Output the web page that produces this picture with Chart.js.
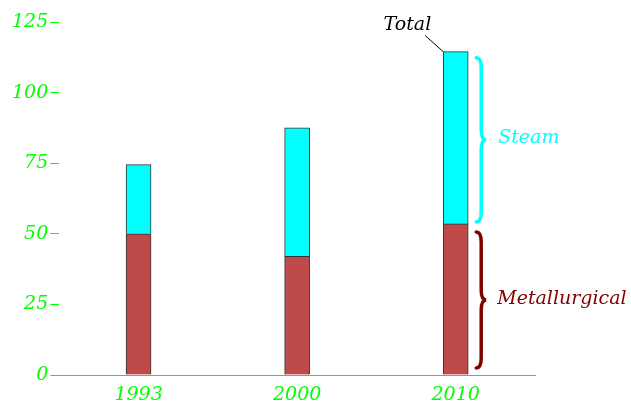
<!DOCTYPE html>
<html lang="en">
  <head>
    <meta charset="UTF-8" />
    <title>Coal use</title>
    <script src="https://cdn.jsdelivr.net/npm/chart.js"></script>
    <style>
      body { margin: 0; background: #fff; }
      #wrap { width: 631px; height: 405px; }
    </style>
  </head>
  <body>
    <div id="wrap"><canvas id="myChart"></canvas></div>
    <script>
      const years = ["1993", "2000", "2010"];
      const metallurgical = [50, 42, 53.5];
      const steam = [24.5, 45.5, 61];
      const yTicks = [0, 25, 50, 75, 100, 125];

      const green = "#00ff00";
      const font = { family: "DejaVu Serif", style: "italic", size: 19 };

      // curly brace "}" between y1 and y2
      const brace = (ctx, x, y1, y2, color) => {
        const ym = (y1 + y2) / 2;
        const r = 10;
        ctx.save();
        ctx.strokeStyle = color;
        ctx.lineWidth = 3.5;
        ctx.lineCap = "round";
        ctx.beginPath();
        ctx.moveTo(x, y1);
        ctx.quadraticCurveTo(x + 5, y1, x + 5, y1 + r);
        ctx.lineTo(x + 5, ym - r);
        ctx.quadraticCurveTo(x + 5, ym, x + 10, ym);
        ctx.quadraticCurveTo(x + 5, ym, x + 5, ym + r);
        ctx.lineTo(x + 5, y2 - r);
        ctx.quadraticCurveTo(x + 5, y2, x, y2);
        ctx.stroke();
        ctx.restore();
      };

      const notes = {
        id: "notes",
        afterDatasetsDraw(chart) {
          const ctx = chart.ctx;
          const y = chart.scales.y;
          const last = years.length - 1;
          const bar = chart.getDatasetMeta(1).data[last];
          const left = bar.x - bar.width / 2;
          const bx = bar.x + bar.width / 2 + 8;
          const topY = y.getPixelForValue(metallurgical[last] + steam[last]);
          const midY = y.getPixelForValue(metallurgical[last]);
          const zeroY = y.getPixelForValue(0);

          brace(ctx, bx, topY + 6, midY - 2, "#00ffff");
          brace(ctx, bx, midY + 8, zeroY - 7, "#800000");

          ctx.save();
          ctx.font = "italic 19px 'DejaVu Serif'";
          ctx.textBaseline = "middle";
          ctx.fillStyle = "#00ffff";
          ctx.fillText("Steam", bx + 22, (topY + midY) / 2);
          ctx.fillStyle = "#800000";
          ctx.fillText("Metallurgical", bx + 21, (midY + zeroY) / 2);

          ctx.fillStyle = "#000";
          ctx.textAlign = "right";
          ctx.textBaseline = "alphabetic";
          ctx.fillText("Total", left - 12, topY - 22);
          ctx.strokeStyle = "#000";
          ctx.lineWidth = 1;
          ctx.beginPath();
          ctx.moveTo(left - 18, topY - 16);
          ctx.lineTo(left, topY);
          ctx.stroke();
          ctx.restore();
        },
      };

      new Chart(document.getElementById("myChart"), {
        type: "bar",
        data: {
          labels: years,
          datasets: [
            {
              label: "Metallurgical",
              data: metallurgical,
              backgroundColor: "#bf4a4a",
              borderColor: "#333",
              borderWidth: 1,
            },
            {
              label: "Steam",
              data: steam,
              backgroundColor: "#00ffff",
              borderColor: "#333",
              borderWidth: 1,
            },
          ],
        },
        options: {
          responsive: true,
          maintainAspectRatio: false,
          animation: false,
          layout: { padding: { left: 10, right: 96, top: 22, bottom: 0 } },
          datasets: { bar: { barThickness: 25, categoryPercentage: 1 } },
          plugins: { legend: { display: false }, tooltip: { enabled: false } },
          scales: {
            x: {
              stacked: true,
              grid: { display: false, drawTicks: false },
              border: { color: green, width: 1 },
              ticks: { color: green, font: font, padding: 9 },
              afterFit: (s) => { s.height = 30; },
            },
            y: {
              stacked: true,
              min: 0,
              max: 125,
              afterBuildTicks: (s) => { s.ticks = yTicks.map((v) => ({ value: v })); },
              grid: { drawOnChartArea: false, tickLength: 9, color: green },
              border: { display: false },
              ticks: { color: green, font: font, padding: 2 },
            },
          },
        },
        plugins: [notes],
      });
    </script>
  </body>
</html>
